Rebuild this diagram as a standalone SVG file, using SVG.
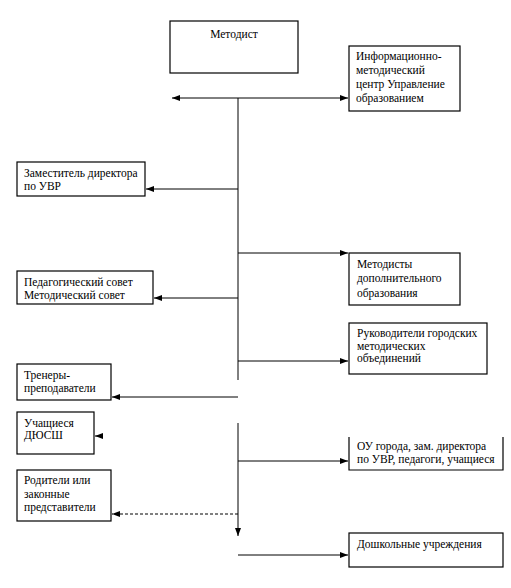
<svg xmlns="http://www.w3.org/2000/svg" width="511" height="588" viewBox="0 0 511 588">
<style>
  .box { fill: #fff; stroke: #000; stroke-width: 1.2; }
  .t { font-family: 'Liberation Serif', 'Times New Roman', serif; font-size: 11.5px; fill: #000; }
  .ln { stroke: #000; stroke-width: 1; fill: none; }
  .dash { stroke-dasharray: 3 2; }
</style>
<defs>
  <marker id="ah" viewBox="0 0 8 6" refX="8" refY="3" markerWidth="8" markerHeight="6" markerUnits="userSpaceOnUse" orient="auto">
    <path d="M0,0 L8,3 L0,6 Z" fill="#000"/>
  </marker>
</defs>
<rect width="511" height="588" fill="#fff"/>

<g id="connectors">
  <line class="ln" x1="238" y1="98" x2="238" y2="380"/>
  <line class="ln" x1="238" y1="98" x2="172" y2="98" marker-end="url(#ah)"/>
  <line class="ln" x1="238" y1="98" x2="348" y2="98" marker-end="url(#ah)"/>
  <line class="ln" x1="238" y1="189" x2="146" y2="189" marker-end="url(#ah)"/>
  <line class="ln" x1="238" y1="253" x2="348" y2="253" marker-end="url(#ah)"/>
  <line class="ln" x1="238" y1="298" x2="154" y2="298" marker-end="url(#ah)"/>
  <line class="ln" x1="238" y1="361" x2="348" y2="361" marker-end="url(#ah)"/>
  <line class="ln" x1="238" y1="397" x2="112" y2="397" marker-end="url(#ah)"/>
  <line class="ln" x1="100" y1="436" x2="95" y2="436" marker-end="url(#ah)"/>
  <line class="ln" x1="238" y1="423" x2="238" y2="536" marker-end="url(#ah)"/>
  <line class="ln" x1="238" y1="461" x2="348" y2="461" marker-end="url(#ah)"/>
  <line class="ln dash" x1="238" y1="514" x2="112" y2="514" marker-end="url(#ah)"/>
  <line class="ln" x1="238" y1="555" x2="348" y2="555" marker-end="url(#ah)"/>
</g>

<g id="metodist">
  <rect class="box" x="170" y="21" width="128" height="52"/>
  <text class="t" x="234" y="38" text-anchor="middle">Методист</text>
</g>

<g id="info-center">
  <rect class="box" x="349" y="46" width="111" height="65"/>
  <text class="t" x="356" y="60">Информационно-</text>
  <text class="t" x="356" y="74">методический</text>
  <text class="t" x="356" y="88">центр Управление</text>
  <text class="t" x="356" y="102">образованием</text>
</g>

<g id="zam-director">
  <rect class="box" x="17" y="162" width="128" height="34"/>
  <text class="t" x="24" y="177">Заместитель директора</text>
  <text class="t" x="24" y="190">по УВР</text>
</g>

<g id="ped-sovet">
  <rect class="box" x="17" y="271" width="136" height="33"/>
  <text class="t" x="24" y="286">Педагогический совет</text>
  <text class="t" x="24" y="299">Методический совет</text>
</g>

<g id="metodisty-do">
  <rect class="box" x="349" y="253" width="111" height="52"/>
  <text class="t" x="357" y="268">Методисты</text>
  <text class="t" x="357" y="282">дополнительного</text>
  <text class="t" x="357" y="297">образования</text>
</g>

<g id="rukovoditeli">
  <rect class="box" x="349" y="323" width="138" height="51"/>
  <text class="t" x="357" y="337">Руководители городских</text>
  <text class="t" x="357" y="350">методических</text>
  <text class="t" x="357" y="362">объединений</text>
</g>

<g id="trenery">
  <rect class="box" x="17" y="364" width="94" height="36"/>
  <text class="t" x="24" y="379">Тренеры-</text>
  <text class="t" x="24" y="392">преподаватели</text>
</g>

<g id="uchaschiesya">
  <rect class="box" x="17" y="412" width="77" height="42"/>
  <text class="t" x="24" y="427">Учащиеся</text>
  <text class="t" x="24" y="439">ДЮСШ</text>
</g>

<g id="roditeli">
  <rect class="box" x="17" y="470" width="94" height="51"/>
  <text class="t" x="24" y="484">Родители или</text>
  <text class="t" x="24" y="498">законные</text>
  <text class="t" x="24" y="511">представители</text>
</g>

<g id="ou-goroda">
  <path class="box" d="M349,437 L349,470 L503,470 L503,437"/>
  <text class="t" x="357" y="450">ОУ города, зам. директора</text>
  <text class="t" x="357" y="463">по УВР, педагоги, учащиеся</text>
</g>

<g id="doshkolnye">
  <rect class="box" x="349" y="533" width="154" height="34"/>
  <text class="t" x="357" y="548">Дошкольные учреждения</text>
</g>
</svg>
